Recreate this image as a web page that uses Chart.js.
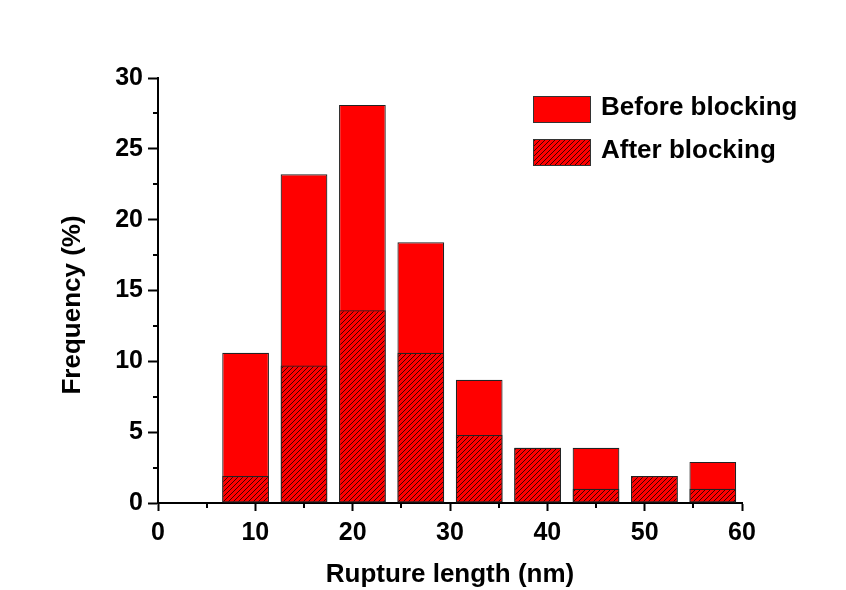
<!DOCTYPE html>
<html>
<head>
<meta charset="utf-8">
<script src="https://cdn.jsdelivr.net/npm/chart.js@4.4.1/dist/chart.umd.min.js"></script>
<style>
  html, body { margin: 0; padding: 0; background: #fff; }
  #wrap { width: 846px; height: 590px; }
</style>
</head>
<body>
<div id="wrap"><canvas id="chart" width="846" height="590"></canvas></div>
<script>
// histogram bins (nm) and frequencies (%)
const binCenters = [9, 15, 21, 27, 33, 39, 45, 51, 57];
const beforeBlocking = [10.6, 23.2, 28.1, 18.4, 8.7, 3.9, 3.9, 1.9, 2.9];
const afterBlocking = [1.9, 9.7, 13.6, 10.6, 4.8, 3.9, 1.0, 1.9, 1.0];
const xTicks = [0, 10, 20, 30, 40, 50, 60];
const yTicks = [0, 5, 10, 15, 20, 25, 30];
const seriesLabels = ['Before blocking', 'After blocking'];

const FONT = '"Liberation Sans", Arial, sans-serif';
Chart.defaults.font.family = FONT;
Chart.defaults.color = '#000';

// red fill with dark "/" hatch lines
function makeHatch() {
    const s = 5;
    const c = document.createElement('canvas');
    c.width = s; c.height = s;
    const g = c.getContext('2d');
    g.fillStyle = '#ff0000';
    g.fillRect(0, 0, s, s);
    g.strokeStyle = '#2a0000';
    g.lineWidth = 0.9;
    g.beginPath();
    g.moveTo(-1, s + 1); g.lineTo(s + 1, -1);
    g.moveTo(-1, 1); g.lineTo(1, -1);
    g.moveTo(s - 1, s + 1); g.lineTo(s + 1, s - 1);
    g.stroke();
    return g.createPattern(c, 'repeat');
}

function midpoints(arr) {
    const out = [];
    for (let i = 1; i < arr.length; i++) out.push((arr[i - 1] + arr[i]) / 2);
    return out;
}

// short ticks between the labelled ones
const minorTicks = {
    id: 'minorTicks',
    afterDraw(chart) {
        const { ctx, scales: { x, y }, chartArea } = chart;
        ctx.save();
        ctx.strokeStyle = '#000';
        ctx.lineWidth = 2;
        ctx.beginPath();
        midpoints(yTicks).forEach(v => {
            const p = Math.round(y.getPixelForValue(v));
            ctx.moveTo(chartArea.left - 5, p);
            ctx.lineTo(chartArea.left, p);
        });
        midpoints(xTicks).forEach(v => {
            const p = Math.round(x.getPixelForValue(v));
            ctx.moveTo(p, chartArea.bottom);
            ctx.lineTo(p, chartArea.bottom + 5);
        });
        ctx.stroke();
        ctx.restore();
    }
};

// legend drawn inside the plot, top right
const legendInPlot = {
    id: 'legendInPlot',
    afterDraw(chart) {
        const { ctx, chartArea } = chart;
        const x0 = chartArea.right - 209;
        const y0 = chartArea.top + 18;
        ctx.save();
        ctx.font = 'bold 26px ' + FONT;
        ctx.textBaseline = 'middle';
        ctx.textAlign = 'left';
        chart.data.datasets.forEach((ds, i) => {
            const top = y0 + i * 43;
            ctx.fillStyle = ds.backgroundColor;
            ctx.fillRect(x0, top, 58, 27);
            ctx.strokeStyle = '#333';
            ctx.lineWidth = 1;
            ctx.strokeRect(x0 + 0.5, top + 0.5, 57, 26);
            ctx.fillStyle = '#000';
            ctx.fillText(ds.label, x0 + 68, top + 12);
        });
        ctx.restore();
    }
};

const ctx = document.getElementById('chart').getContext('2d');
new Chart(ctx, {
    type: 'bar',
    data: {
        datasets: [
            {
                label: seriesLabels[0],
                data: binCenters.map((x, i) => ({ x: x, y: beforeBlocking[i] })),
                backgroundColor: '#ff0000',
                borderColor: '#222',
                borderWidth: 1.2,
                borderSkipped: false,
                order: 1
            },
            {
                label: seriesLabels[1],
                data: binCenters.map((x, i) => ({ x: x, y: afterBlocking[i] })),
                backgroundColor: makeHatch(),
                borderColor: '#222',
                borderWidth: 1.2,
                borderSkipped: false,
                order: 0
            }
        ]
    },
    options: {
        responsive: false,
        animation: false,
        grouped: false,
        categoryPercentage: 1,
        barPercentage: 0.8,
        layout: { padding: { left: 0, top: 78, right: 104, bottom: 0 } },
        plugins: { legend: { display: false }, tooltip: { enabled: false } },
        scales: {
            x: {
                type: 'linear',
                min: 0,
                max: 60,
                offset: false,
                afterBuildTicks: s => { s.ticks = xTicks.map(v => ({ value: v })); },
                afterFit: s => { s.height = 87; },
                grid: { display: true, drawOnChartArea: false, offset: false, tickLength: 8, tickColor: '#000', tickWidth: 2 },
                border: { display: true, color: '#000', width: 2 },
                ticks: { font: { size: 25, weight: 'bold' }, padding: 7, maxRotation: 0 },
                title: { display: true, text: 'Rupture length (nm)', font: { size: 26, weight: 'bold' }, padding: { top: 0, bottom: 0 } }
            },
            y: {
                min: 0,
                max: 30,
                afterBuildTicks: s => { s.ticks = yTicks.map(v => ({ value: v })); },
                afterFit: s => { s.width = 158; },
                grid: { display: true, drawOnChartArea: false, tickLength: 10, tickColor: '#000', tickWidth: 2 },
                border: { display: true, color: '#000', width: 2 },
                ticks: { font: { size: 25, weight: 'bold' }, padding: 5 },
                // trailing spaces nudge the centred title down to where it sits in the figure
                title: { display: true, text: 'Frequency (%)\u00a0\u00a0\u00a0\u00a0', font: { size: 26, weight: 'bold' }, padding: { top: 57, bottom: 0 } }
            }
        }
    },
    plugins: [minorTicks, legendInPlot]
});
</script>
</body>
</html>
